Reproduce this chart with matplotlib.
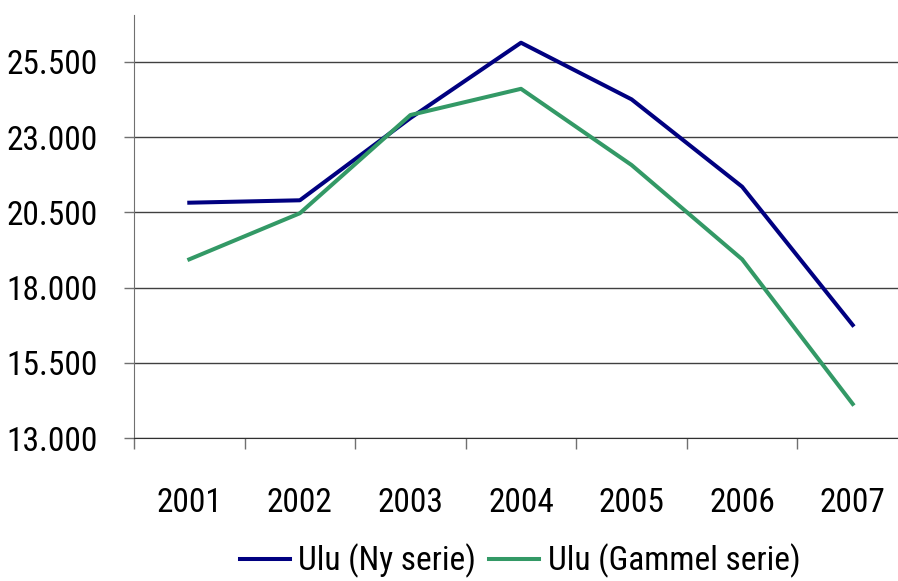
import matplotlib.pyplot as plt
import numpy as np

years = ['2001', '2002', '2003', '2004', '2005', '2006', '2007']
ny_serie = [20820, 20900, 23630, 26130, 24250, 21350, 16760]
gammel_serie = [18940, 20470, 23730, 24600, 22070, 18940, 14140]
y_ticks = [13000, 15500, 18000, 20500, 23000, 25500]
y_labels = ['13.000', '15.500', '18.000', '20.500', '23.000', '25.500']

plt.rcParams['font.family'] = ['Roboto Condensed', 'Liberation Sans', 'DejaVu Sans']
FS = 24

fig = plt.figure(figsize=(8.98, 5.81), dpi=100)
ax = fig.add_axes([134 / 898, 1 - 438.3 / 581, (908 - 134) / 898, (438.3 - 15) / 581])

x = np.arange(len(years))
l1, = ax.plot(x, ny_serie, color='#000080', lw=2.9, label='Ulu (Ny serie)')
l2, = ax.plot(x, gammel_serie, color='#339966', lw=2.9, label='Ulu (Gammel serie)')

ax.set_xlim(-0.5, 6.5)
ax.set_ylim(13000, 27050)

for spine in ['top', 'right']:
    ax.spines[spine].set_visible(False)
ax.spines['left'].set_color('#707070')
ax.spines['bottom'].set_color('#303030')

ax.set_yticks(y_ticks)
ax.set_yticklabels(y_labels, fontsize=FS)
ax.tick_params(axis='y', length=7.2, width=1, color='#707070', pad=19)
ax.yaxis.grid(True, color='#404040', lw=1)
ax.set_axisbelow(True)

ax.set_xticks(x)
ax.set_xticklabels(years, fontsize=FS)
ax.set_xticks(np.arange(-0.5, 7, 1), minor=True)
ax.tick_params(axis='x', which='major', length=0, pad=35)
ax.tick_params(axis='x', which='minor', length=8, width=1, color='#707070')

fig.legend(handles=[l1, l2], loc='center', bbox_to_anchor=(520 / 898, 1 - 561 / 581),
           ncol=2, frameon=False, fontsize=FS, handlelength=1.5,
           handletextpad=0.25, columnspacing=0.4, borderpad=0)

fig.savefig('out.png', dpi=100)
